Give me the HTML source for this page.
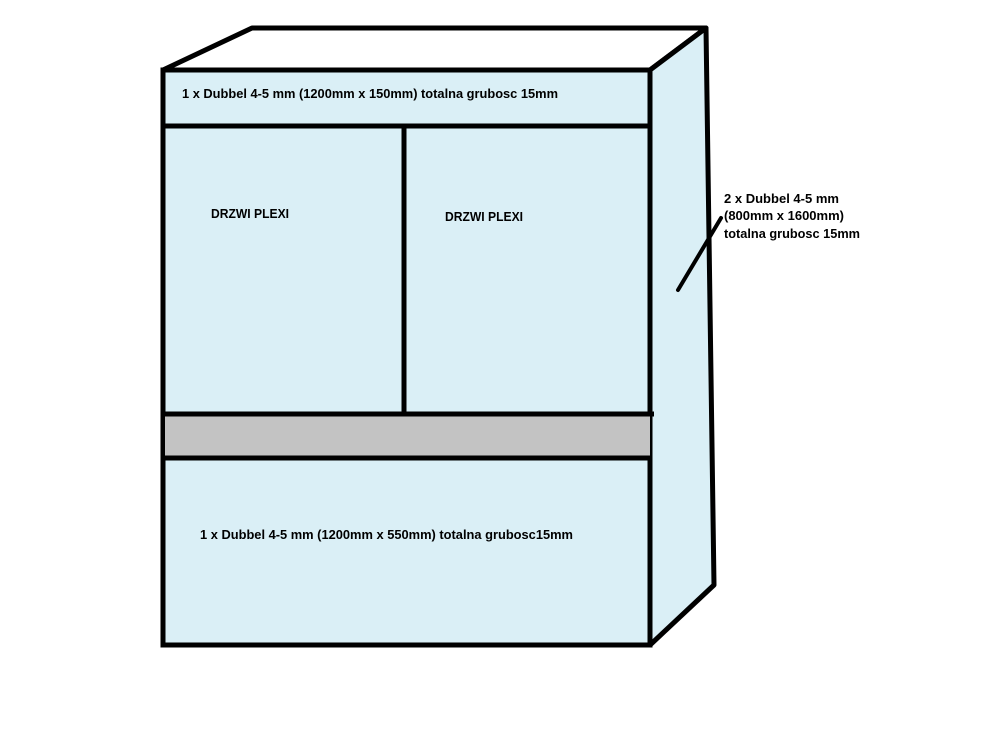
<!DOCTYPE html>
<html><head><style>
body{margin:0;background:#fff}
svg{display:block}
text{font-family:"Liberation Sans",sans-serif;font-weight:bold;font-size:12.8px;fill:#000}
</style></head><body>
<svg width="982" height="743" viewBox="0 0 982 743">
<polygon points="163,70 252,28 706,28 650,70" fill="#fff" stroke="#000" stroke-width="5" stroke-linejoin="round"/>
<polygon points="650,70 706,28 714,585 650,645" fill="#daeff6" stroke="#000" stroke-width="5" stroke-linejoin="round"/>
<rect x="163" y="70" width="487" height="575" fill="#daeff6" stroke="#000" stroke-width="5"/>
<rect x="165" y="414" width="485" height="44" fill="#c3c3c3"/>
<line x1="163" y1="126" x2="650" y2="126" stroke="#000" stroke-width="5"/>
<line x1="163" y1="414" x2="654" y2="414" stroke="#000" stroke-width="5"/>
<line x1="163" y1="458" x2="650" y2="458" stroke="#000" stroke-width="5"/>
<line x1="404" y1="126" x2="404" y2="414" stroke="#000" stroke-width="5"/>
<line x1="678" y1="290" x2="721" y2="218" stroke="#000" stroke-width="4" stroke-linecap="round"/>
<text x="182" y="98" textLength="376" lengthAdjust="spacingAndGlyphs">1 x Dubbel 4-5 mm (1200mm x 150mm) totalna grubosc 15mm</text>
<text x="211" y="218" textLength="78" lengthAdjust="spacingAndGlyphs">DRZWI PLEXI</text>
<text x="445" y="221" textLength="78" lengthAdjust="spacingAndGlyphs">DRZWI PLEXI</text>
<text x="200" y="539" textLength="373" lengthAdjust="spacingAndGlyphs">1 x Dubbel 4-5 mm (1200mm x 550mm) totalna grubosc15mm</text>
<text x="724" y="203" textLength="115" lengthAdjust="spacingAndGlyphs">2 x Dubbel 4-5 mm</text>
<text x="724" y="220" textLength="120" lengthAdjust="spacingAndGlyphs">(800mm x 1600mm)</text>
<text x="724" y="238" textLength="136" lengthAdjust="spacingAndGlyphs">totalna grubosc 15mm</text>
</svg>
</body></html>
